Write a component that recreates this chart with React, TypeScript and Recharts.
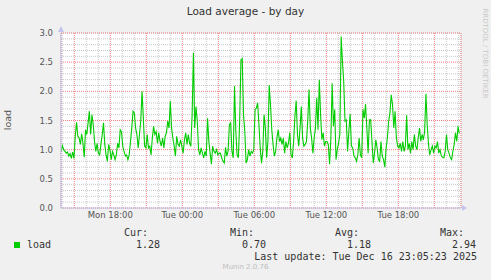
import { LineChart, Line, XAxis, YAxis, CartesianGrid } from "recharts";

// hours relative to Tue 00:00
const startHour = -10.1;
const endHour = 23.08;
const xDomain = [-10.11, 23.22];

const loadValues = [
  0.97, 1.07, 1.0, 0.97, 0.94, 0.96, 0.89, 0.93, 0.85, 0.96,
  0.85, 1.23, 1.47, 1.23, 1.2, 1.09, 1.27, 1.11, 0.87, 1.34,
  1.26, 1.46, 1.66, 1.26, 1.6, 1.43, 1.14, 0.97, 1.11, 0.94,
  0.91, 1.09, 1.26, 1.46, 1.09, 0.91, 0.8, 1.09, 1.0, 0.83,
  0.97, 0.91, 0.83, 0.91, 1.11, 1.03, 1.34, 1.31, 1.06, 0.97,
  0.89, 0.91, 0.83, 0.91, 1.14, 1.37, 1.66, 1.63, 1.37, 1.26,
  1.03, 1.26, 1.49, 2.0, 1.54, 1.06, 1.03, 1.26, 1.03, 1.06,
  0.91, 1.2, 1.4, 1.26, 1.31, 1.11, 1.29, 1.14, 1.06, 1.2,
  1.03, 1.23, 1.29, 1.49, 1.37, 1.83, 1.37, 1.2, 1.06, 0.89,
  1.23, 1.09, 1.06, 1.17, 1.06, 0.94, 1.17, 1.29, 1.09, 1.26,
  1.11, 1.06, 1.6, 2.66,
  1.37, 1.74, 1.49, 1.0, 0.91, 1.03, 0.94, 0.86, 0.97, 0.89,
  1.54, 1.14, 0.94, 0.75, 1.06, 0.97, 0.94, 1.0, 0.91, 0.94,
  0.94, 0.86, 0.8, 0.77, 1.04, 0.89, 0.98, 1.43, 1.46, 0.97,
  0.86, 2.09, 1.31, 0.91, 0.86, 1.49, 2.54, 2.56, 1.6, 1.31,
  0.77, 0.83, 1.0, 0.89, 0.97, 0.94, 1.0, 1.69, 1.71, 1.8,
  1.43, 1.03, 0.77, 0.97, 1.6, 1.37, 0.86, 1.14, 2.11, 1.77,
  1.34, 1.09, 0.89, 0.97, 1.2, 1.34, 1.14, 1.2, 1.09, 1.2,
  0.94, 1.14, 1.03, 1.11, 1.29, 0.91, 0.86, 1.14, 1.57, 1.84,
  1.26, 1.06, 1.37, 1.74, 1.2, 1.06, 1.09, 1.14, 1.49, 2.03,
  1.37, 1.2, 0.94, 1.2, 1.37, 1.89, 1.34, 2.2, 1.6, 1.17,
  1.29, 1.06, 1.14, 1.14,
  1.09, 0.75, 1.2, 2.14, 1.4, 1.69, 0.83, 1.0, 1.11, 1.26,
  2.94, 2.51, 2.17, 1.49, 1.51, 0.97, 1.31, 1.61, 1.06, 1.03,
  0.89, 0.86, 0.8, 0.91, 1.2, 0.91, 0.86, 1.69, 1.54, 1.78,
  1.37, 0.94, 1.51, 1.51, 1.14, 0.77, 0.94, 1.17, 1.03, 0.83,
  0.8, 1.14, 0.89, 0.83, 0.7, 1.03, 1.2, 1.49, 1.63, 1.94,
  1.77, 1.37, 1.66, 1.2, 1.06, 1.03, 1.11, 0.97, 1.14, 0.97,
  1.06, 1.59, 1.0, 1.11, 0.94, 1.14, 1.0, 1.26, 1.06, 1.0,
  1.2, 1.37, 1.14, 1.26, 1.17, 1.31, 1.96, 1.43, 1.09, 0.91,
  1.0, 1.06, 0.94, 1.06, 1.03, 1.14, 0.94, 1.0, 0.89, 0.87,
  0.86, 0.97, 1.26, 1.0, 0.94, 0.86, 0.83, 0.97, 1.09, 1.29,
  1.14, 1.4, 1.28,
];

const xTickHours = [-6, 0, 6, 12, 18];
const xTickLabels = ["Mon 18:00", "Tue 00:00", "Tue 06:00", "Tue 12:00", "Tue 18:00"];
const hourLines = [-10, -8, -7, -5, -4, -2, -1, 1, 2, 4, 5, 7, 8, 10, 11, 13, 14, 16, 17, 19, 20, 22, 23];
const threeHourLines = [-9, -6, -3, 0, 3, 6, 9, 12, 15, 18, 21];
const yTicks = [0, 0.5, 1, 1.5, 2, 2.5, 3];
const yMinorTicks = [0.1, 0.2, 0.3, 0.4, 0.6, 0.7, 0.8, 0.9, 1.1, 1.2, 1.3, 1.4, 1.6, 1.7, 1.8, 1.9, 2.1, 2.2, 2.3, 2.4, 2.6, 2.7, 2.8, 2.9];

const statLabels = ["Cur:", "Min:", "Avg:", "Max:"];
const statValues = ["1.28", "0.70", "1.18", "2.94"];
const lastUpdate = "Last update: Tue Dec 16 23:05:23 2025";

const data = loadValues.map((load, i) => ({
  t: startHour + (i * (endHour - startHour)) / (loadValues.length - 1),
  load,
}));

const axisColor = "#c4c4f0";
const mono = "'DejaVu Sans Mono', monospace";
const sans = "'DejaVu Sans', sans-serif";

const YArrow = (props: any) => {
  const { x, y, width } = props.viewBox;
  const ax = x + width;
  return <polygon points={`${ax - 3},${y - 1} ${ax + 3},${y - 1} ${ax},${y - 7}`} fill={axisColor} />;
};

const XArrow = (props: any) => {
  const { x, y, width } = props.viewBox;
  const ax = x + width;
  return <polygon points={`${ax + 1},${y - 3} ${ax + 1},${y + 3} ${ax + 6},${y}`} fill={axisColor} />;
};

export default function App() {
  const statRight = [148, 254, 359, 464];
  return (
    <div style={{ position: "absolute", left: 0, top: 0, width: 491, height: 280, background: "#f0f0f0", overflow: "hidden" }}>
      <LineChart width={491} height={280} data={data} margin={{ top: 33, right: 30, bottom: 52, left: 21 }}>
        <XAxis xAxisId="minor" type="number" dataKey="t" domain={xDomain} ticks={hourLines} interval={0} hide allowDataOverflow />
        <XAxis xAxisId="major" type="number" dataKey="t" domain={xDomain} ticks={threeHourLines} interval={0} hide allowDataOverflow />
        <YAxis yAxisId="minor" type="number" domain={[0, 3]} ticks={yMinorTicks} interval={0} hide allowDataOverflow />
        <YAxis yAxisId="major" type="number" domain={[0, 3]} ticks={yTicks} interval={0} hide allowDataOverflow />
        <CartesianGrid xAxisId="minor" yAxisId="minor" stroke="#c8c8c8" strokeDasharray="1 1" fill="#ffffff" fillOpacity={1} />
        <CartesianGrid xAxisId="major" yAxisId="major" stroke="#f08080" strokeDasharray="1 1" />
        <XAxis
          type="number"
          dataKey="t"
          domain={xDomain}
          ticks={xTickHours}
          interval={0}
          allowDataOverflow
          height={20}
          tickSize={0}
          tickMargin={4}
          stroke={axisColor}
          tick={{ fill: "#555", fontSize: 8.5, fontFamily: sans }}
          tickFormatter={(v: number) => xTickLabels[xTickHours.indexOf(v)] ?? ""}
          label={XArrow}
        />
        <YAxis
          type="number"
          domain={[0, 3]}
          ticks={yTicks}
          interval={0}
          allowDataOverflow
          width={40}
          tickSize={0}
          tickMargin={8}
          stroke={axisColor}
          tick={{ fill: "#555", fontSize: 8.5, fontFamily: sans }}
          tickFormatter={(v: number) => v.toFixed(1)}
          label={YArrow}
        />
        <Line dataKey="load" type="linear" stroke="#00cc00" strokeWidth={1.1} dot={false} activeDot={false} isAnimationActive={false} />
      </LineChart>

      <div style={{ position: "absolute", left: 0, top: 5, width: 491, textAlign: "center", fontFamily: sans, fontSize: 10.5, lineHeight: "13px", color: "#333" }}>
        Load average - by day
      </div>
      <div style={{ position: "absolute", left: -12, top: 114, width: 40, textAlign: "center", fontFamily: sans, fontSize: 9.5, lineHeight: "12px", color: "#555", transform: "rotate(-90deg)" }}>
        load
      </div>
      <div style={{ position: "absolute", left: 434, top: 49, width: 100, textAlign: "center", fontFamily: sans, fontSize: 7, lineHeight: "9px", color: "#c8c8c8", transform: "rotate(90deg)", whiteSpace: "nowrap" }}>
        RRDTOOL / TOBI OETIKER
      </div>

      <div style={{ position: "absolute", left: 14, top: 242, width: 6, height: 6, background: "#00cc00" }} />
      <div style={{ position: "absolute", left: 27, top: 239, fontFamily: mono, fontSize: 10, lineHeight: "12px", color: "#333", whiteSpace: "pre" }}>load</div>
      {statLabels.map((s, i) => (
        <div key={s} style={{ position: "absolute", right: 491 - statRight[i], top: 227, fontFamily: mono, fontSize: 10, lineHeight: "12px", color: "#333", whiteSpace: "pre" }}>{s}</div>
      ))}
      {statValues.map((s, i) => (
        <div key={i} style={{ position: "absolute", right: 491 - (statRight[i] + 12), top: 239, fontFamily: mono, fontSize: 10, lineHeight: "12px", color: "#333", whiteSpace: "pre" }}>{s}</div>
      ))}
      <div style={{ position: "absolute", right: 14, top: 251, fontFamily: mono, fontSize: 10, lineHeight: "12px", color: "#333", whiteSpace: "pre" }}>{lastUpdate}</div>
      <div style={{ position: "absolute", left: 0, top: 263, width: 491, textAlign: "center", fontFamily: sans, fontSize: 7, lineHeight: "9px", color: "#bdbdbd" }}>
        Munin 2.0.76
      </div>
    </div>
  );
}
